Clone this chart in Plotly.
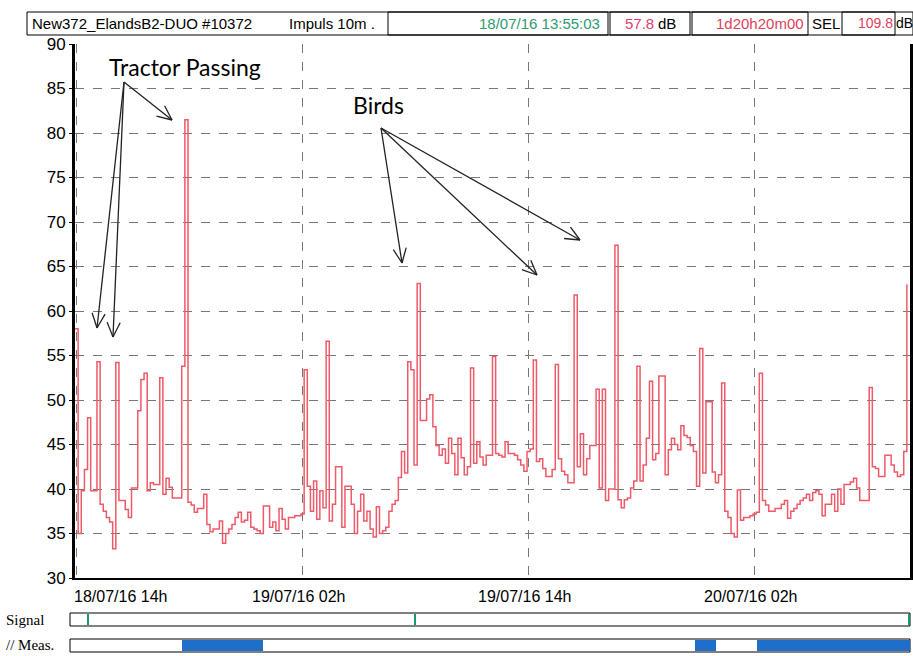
import datetime as dt
import math
import plotly.graph_objects as go

# ---- data (10-minute Leq values) ----
start_time = "2016-07-18 13:55:03"
end_time = "2016-07-20 10:15:03"
step_minutes = 10
levels_db = [
    58, 35, 39.8, 42.2, 48, 39.8, 39.8, 54.3, 38.3, 37.5,
    36.8, 36.3, 33.3, 54.2, 38.7, 38.7, 37.7, 36.8, 40.1, 40.1,
    48.8, 52.3, 53, 39.8, 40.7, 40.5, 40.5, 52.5, 39.4, 41.2,
    40.2, 39, 39, 39, 53.8, 81.5, 38.5, 38.2, 37.4, 37.8,
    37.8, 39.4, 36, 35.2, 35.5, 35.5, 36.4, 33.9, 35, 35.5,
    36, 36.8, 37.4, 36.3, 36.5, 37.4, 35.7, 35.5, 35.3, 35,
    38.1, 38.1, 35.7, 36.3, 35.3, 37.8, 36.6, 35.5, 36.8, 36.8,
    37, 37, 37.2, 53.4, 40.3, 37.5, 40.9, 36.6, 39.8, 37.9,
    56.6, 36.4, 38.3, 42.5, 42.5, 35.7, 40.3, 40.3, 38.3, 35,
    37.5, 39.4, 36.4, 37.5, 35.5, 34.6, 38, 35, 35.3, 35.7,
    37.5, 38.3, 38.7, 41.3, 44.2, 41.8, 54.3, 53.4, 42.7, 63.1,
    47.7, 47.7, 50.1, 50.6, 47, 44.9, 43.8, 44.5, 42.9, 45.7,
    44, 41.6, 45.7, 43.5, 41.6, 42.5, 53.6, 42.9, 45.3, 43.6,
    42.7, 43.8, 43.8, 54.9, 44, 43.8, 43.6, 45.3, 44, 44,
    43.8, 43.3, 42.7, 42, 44.2, 44.5, 54.5, 43.1, 43.4, 42.3,
    41.4, 41.4, 42.2, 54, 43.4, 42, 41.6, 40.7, 40.7, 61.8,
    42.5, 46.2, 41.6, 43.4, 44.9, 44.9, 51.2, 40.1, 51.2, 38.7,
    40, 40, 67.4, 38.8, 37.9, 38.8, 39, 40.1, 40.9, 53.8,
    40.9, 42.7, 45.7, 52.1, 43.3, 44, 52.7, 52.7, 41.6, 44.4,
    45.7, 45, 44.4, 47.1, 46, 45.8, 44.9, 44.2, 40.3, 55.8,
    41.8, 49.8, 49.8, 41.9, 40.7, 41.6, 51.9, 37.5, 36.8, 35,
    34.6, 39.9, 36.5, 36.8, 36.8, 37, 37.2, 37.4, 53, 38.7,
    38.2, 37.5, 37.5, 37.8, 37.8, 38.3, 38.7, 36.7, 37.5, 37.8,
    38.3, 38.7, 39, 39.4, 38.7, 39.6, 39.8, 39.4, 37, 38.3,
    38.3, 39.4, 37.5, 40, 38.3, 40.5, 40.5, 40.8, 41.2, 40.1,
    38.7, 38.7, 38.7, 51.4, 42.5, 42.3, 41.4, 41.4, 43.8, 43.8,
    42.7, 41.9, 41.4, 41.6, 44.2, 63,
]
tick_times = ["2016-07-18 14:00", "2016-07-19 02:00", "2016-07-19 14:00", "2016-07-20 02:00"]
tick_labels = ["18/07/16 14h", "19/07/16 02h", "19/07/16 14h", "20/07/16 02h"]
y_ticks = [30, 35, 40, 45, 50, 55, 60, 65, 70, 75, 80, 85, 90]

header_title = "New372_ElandsB2-DUO #10372"
header_mode = "Impuls 10m ."
header_start = "18/07/16 13:55:03"
header_level = "57.8"
header_duration = "1d20h20m00"
header_sel = "109.8"

# ---- derived x values ----
t0 = dt.datetime.strptime(start_time, "%Y-%m-%d %H:%M:%S")
times = [t0 + dt.timedelta(minutes=step_minutes * i) for i in range(len(levels_db))]

W, H = 913, 656
L, R, T, B = 75, 910, 44, 578


def px(x):
    return (x - L) / (R - L)


def py(y):
    return (B - y) / (B - T)


fig = go.Figure()
fig.add_trace(go.Scatter(
    x=times, y=levels_db, mode="lines", line_shape="hv",
    line=dict(color="#ef5a68", width=1.5), hoverinfo="skip", showlegend=False,
))

narrow = "Liberation Sans Narrow, Arial Narrow, Liberation Sans, Arial"
shapes = []
annotations = []

# header boxes
shapes.append(dict(type="rect", xref="paper", yref="paper", x0=px(27), x1=px(913), y0=py(35), y1=py(12),
                   line=dict(color="black", width=1)))
for a, b in [(388, 608), (610, 690), (692, 808), (842, 895)]:
    shapes.append(dict(type="rect", xref="paper", yref="paper", x0=px(a), x1=px(b), y0=py(35), y1=py(12),
                       line=dict(color="black", width=1)))


def text(x, y, s, color="black", size=15, anchor="left", family=narrow):
    annotations.append(dict(x=px(x), y=py(y), xref="paper", yref="paper", text=s, showarrow=False,
                            xanchor=anchor, yanchor="middle",
                            font=dict(family=family, size=size, color=color)))


text(30, 23, header_title)
text(287, 23, header_mode)
text(602, 23, header_start, color="#2e9a6e", anchor="right")
text(656, 23, header_level, color="#e0406a", anchor="right")
text(656, 23, "dB")
text(806, 23, header_duration, color="#e0405a", anchor="right")
text(810, 23, "SEL")
text(895, 23, header_sel, color="#e0405a", anchor="right", size=14)
text(894, 23, "dB", size=14)

# x tick labels
for i, (tt, lab) in enumerate(zip(tick_times, tick_labels)):
    annotations.append(dict(x=tt, y=py(596), xref="x", yref="paper", text=lab, showarrow=False,
                            xanchor="left" if i == 0 else "center", xshift=-5 if i == 0 else -4,
                            yanchor="middle", font=dict(family=narrow, size=16, color="black")))

# annotations with arrows
text(107, 67, "Tractor Passing", size=23, family="Lato, Open Sans, sans-serif")
text(351, 105, "Birds", size=23, family="Lato, Open Sans, sans-serif")


def arrow(x0, y0, x1, y1):
    shapes.append(dict(type="line", xref="paper", yref="paper", x0=px(x0), y0=py(y0), x1=px(x1), y1=py(y1),
                       line=dict(color="#222", width=1.3)))
    ang = math.atan2(y1 - y0, x1 - x0)
    for d in (0.42, -0.42):
        hx = x1 - 16 * math.cos(ang + d)
        hy = y1 - 16 * math.sin(ang + d)
        shapes.append(dict(type="line", xref="paper", yref="paper", x0=px(hx), y0=py(hy), x1=px(x1), y1=py(y1),
                           line=dict(color="#222", width=1.3)))


arrow(124, 82, 97, 328)
arrow(124, 82, 113, 337)
arrow(124, 82, 172, 120)
arrow(381, 128, 402, 263)
arrow(381, 128, 537, 275)
arrow(381, 128, 580, 240)

# Signal / Meas bars
text(4, 620, "Signal", size=15, family="Liberation Serif, Times New Roman, serif")
text(4, 645, "// Meas.", size=15, family="Liberation Serif, Times New Roman, serif")
shapes.append(dict(type="rect", xref="paper", yref="paper", x0=px(70), x1=px(910), y0=py(626), y1=py(613),
                   line=dict(color="black", width=1)))
shapes.append(dict(type="rect", xref="paper", yref="paper", x0=px(70), x1=px(910), y0=py(652), y1=py(639),
                   line=dict(color="black", width=1)))
for gx in (88, 415, 909):
    shapes.append(dict(type="line", xref="paper", yref="paper", x0=px(gx), x1=px(gx), y0=py(625), y1=py(614),
                       line=dict(color="#1a9a70", width=2)))
for a, b in [(182, 263), (695, 716), (757, 910)]:
    shapes.append(dict(type="rect", xref="paper", yref="paper", x0=px(a), x1=px(b), y0=py(651), y1=py(640),
                       line=dict(width=0), fillcolor="#1f6fc8"))

fig.update_layout(
    width=W, height=H, autosize=False,
    margin=dict(l=L, r=W - R, t=T, b=H - B, autoexpand=False),
    paper_bgcolor="white", plot_bgcolor="white",
    shapes=shapes, annotations=annotations, showlegend=False,
    xaxis=dict(type="date", range=[start_time, end_time], tickvals=tick_times, showticklabels=False,
               showgrid=True, gridcolor="#777", griddash="dash", gridwidth=1,
               showline=True, linecolor="black", linewidth=1.5, zeroline=False, ticks=""),
    yaxis=dict(range=[30, 90], tickvals=y_ticks, ticktext=[str(v) for v in y_ticks],
               showgrid=True, gridcolor="#777", griddash="dash", gridwidth=1,
               showline=True, linecolor="black", linewidth=3, mirror=True, zeroline=False,
               ticks="outside", ticklen=3, tickcolor="black",
               tickfont=dict(family=narrow, size=17, color="black")),
)

fig.write_html("out.html", config={"displayModeBar": False},
               post_script="document.body.style.margin='0px';document.body.style.overflow='hidden';")
